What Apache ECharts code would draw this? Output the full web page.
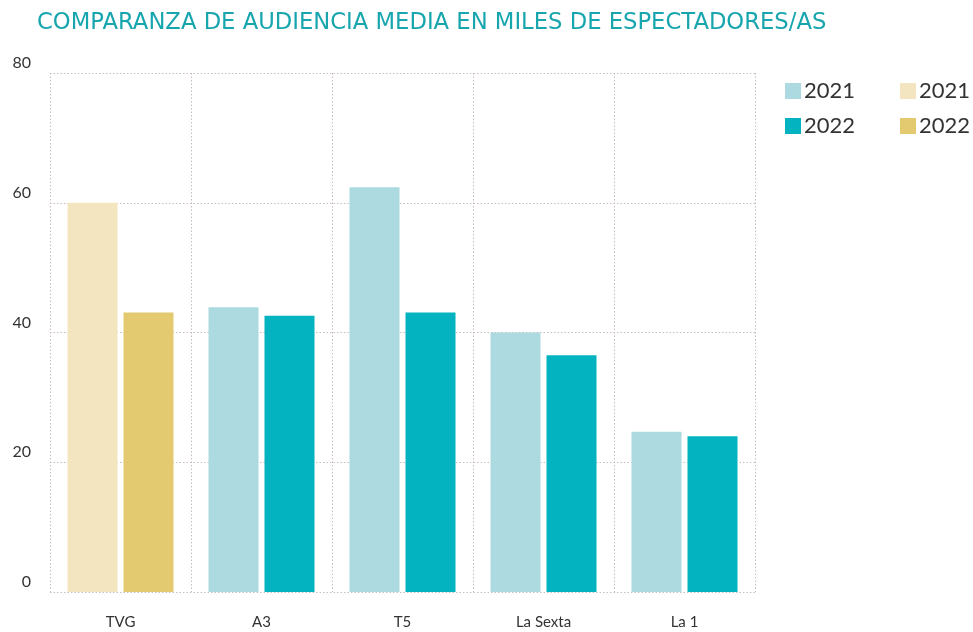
<!DOCTYPE html>
<html><head><meta charset="utf-8">
<script src="https://cdn.jsdelivr.net/npm/echarts@6/dist/echarts.min.js"></script>
<style>html,body{margin:0;padding:0;background:#fff}#c{width:973px;height:632px}</style>
</head><body><div id="c"></div>
<script>
const categories = ['TVG', 'A3', 'T5', 'La Sexta', 'La 1'];
const teal2021 = ['-', 43.9, 62.4, 40.0, 24.7];
const teal2022 = ['-', 42.6, 43.1, 36.5, 24.0];
const tvg2021 = [60.0, '-', '-', '-', '-'];
const tvg2022 = [43.1, '-', '-', '-', '-'];
const yTicks = [0, 20, 40, 60, 80];
const legendYears = ['2021', '2022'];

const C = { lt: '#acdae0', t: '#03b3bf', lb: '#f2e5bf', g: '#e3ca70' };
const font = 'Lato, "Open Sans", sans-serif';
const dotted = { lineStyle: { type: [1.5, 2], color: '#c8bcbc', width: 1 } };

const chart = echarts.init(document.getElementById('c'), null, { renderer: 'canvas' });
const xBase = {
  type: 'category', data: categories, boundaryGap: true,
  axisLine: { show: false }, axisTick: { show: false }
};
chart.setOption({
  animation: false,
  title: {
    text: 'COMPARANZA DE AUDIENCIA MEDIA EN MILES DE ESPECTADORES/AS',
    left: 32, top: 7,
    textStyle: { color: '#17a5ae', fontSize: 22.7, fontWeight: 'normal', fontFamily: '"DejaVu Sans", sans-serif' }
  },
  legend: [
    {
      data: ['T' + legendYears[0], 'T' + legendYears[1]],
      orient: 'vertical', left: 780, top: 75, itemWidth: 16, itemHeight: 16, itemGap: 13,
      icon: 'rect', formatter: n => n.slice(1),
      textStyle: { fontSize: 22, color: '#333', fontFamily: font, padding: [0, 0, 0, -2] }
    },
    {
      data: ['B' + legendYears[0], 'B' + legendYears[1]],
      orient: 'vertical', left: 895, top: 75, itemWidth: 16, itemHeight: 16, itemGap: 13,
      icon: 'rect', formatter: n => n.slice(1),
      textStyle: { fontSize: 22, color: '#333', fontFamily: font, padding: [0, 0, 0, -2] }
    }
  ],
  grid: { left: 50, right: 218, top: 73, bottom: 40 },
  xAxis: [
    Object.assign({}, xBase, {
      axisLabel: { fontSize: 15, color: '#333', margin: 23, fontFamily: font },
      splitLine: Object.assign({ show: true }, dotted)
    }),
    Object.assign({}, xBase, { show: false })
  ],
  yAxis: {
    type: 'value', min: yTicks[0], max: yTicks[yTicks.length - 1], interval: 20,
    axisLine: { show: false }, axisTick: { show: false },
    axisLabel: { fontSize: 16, color: '#333', margin: 19, verticalAlign: 'bottom', padding: [0, 0, 2, 0], fontFamily: font },
    splitLine: Object.assign({ show: true }, dotted)
  },
  series: [
    { name: 'T2021', type: 'bar', xAxisIndex: 0, data: teal2021, barWidth: 50, barGap: '12%', itemStyle: { color: C.lt } },
    { name: 'T2022', type: 'bar', xAxisIndex: 0, data: teal2022, barWidth: 50, barGap: '12%', itemStyle: { color: C.t } },
    { name: 'B2021', type: 'bar', xAxisIndex: 1, data: tvg2021, barWidth: 50, barGap: '12%', itemStyle: { color: C.lb } },
    { name: 'B2022', type: 'bar', xAxisIndex: 1, data: tvg2022, barWidth: 50, barGap: '12%', itemStyle: { color: C.g } }
  ]
});
</script></body></html>
